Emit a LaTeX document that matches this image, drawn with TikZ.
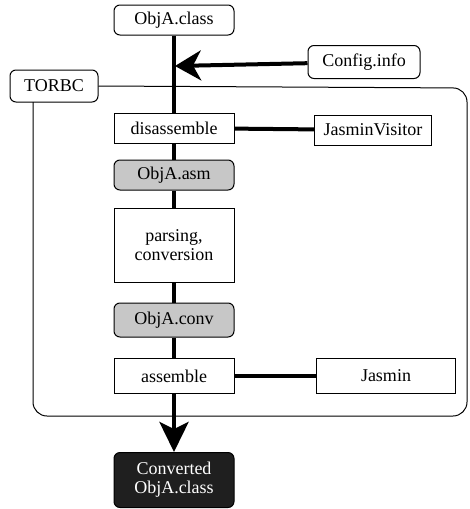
\documentclass[tikz,border=0pt]{standalone}
\usepackage{fontspec}
\setmainfont{Liberation Serif}[Extension=.ttf, UprightFont=LiberationSerif-Regular]
\usetikzlibrary{arrows.meta}
\begin{document}
\begin{tikzpicture}[x=1pt, y=-1pt, line width=1pt,
  every node/.style={font=\rmfamily\fontsize{18}{19}\selectfont, inner sep=0pt, align=center},
  procbox/.style={draw, minimum width=120pt, minimum height=30pt},
  filebox/.style={draw, rounded corners=6pt, minimum width=120pt, minimum height=30pt},
  midfile/.style={filebox, fill=black!22},
  flow/.style={line width=4.5pt},
  link/.style={line width=4pt}]
  \useasboundingbox (0,0) rectangle (470,509);
  \node[filebox] (clsin) at (174,20) {ObjA.class};
  \node[filebox, minimum width=112pt, minimum height=33pt] (config) at (364,62) {Config.info};
  \node[filebox, minimum width=88pt, minimum height=32pt] (torbc) at (54,86) {TORBC};
  \node[procbox] (disasm) at (174,128) {disassemble};
  \node[procbox, minimum width=117pt] (visitor) at (373,130) {JasminVisitor};
  \node[midfile] (asm) at (174,175) {ObjA.asm};
  \node[procbox, minimum height=74pt] (parse) at (174,245) {parsing,\\conversion};
  \node[midfile, minimum height=34pt] (conv) at (174,320) {ObjA.conv};
  \node[procbox, minimum height=35pt] (assem) at (174,376) {assemble};
  \node[procbox, minimum width=139pt, minimum height=35pt] (jasmin) at (386,376) {Jasmin};
  \node[filebox, minimum height=55pt, fill=black!88, text=white] (out) at (174,480) {Converted\\ObjA.class};
  \coordinate (join) at (175,66);
  % TORBC frame
  \draw[rounded corners=14pt] (torbc.east) -- (467,88) -- (467,416) -- (33,416) -- (33,102);
  % main flow
  \draw[flow] (clsin) -- (disasm);
  \draw[flow] (disasm) -- (asm);
  \draw[flow] (asm) -- (parse);
  \draw[flow] (parse) -- (conv);
  \draw[flow] (conv) -- (assem);
  \draw[flow, -{Stealth[length=30pt, width=29pt, inset=7pt]}] (assem) -- (out);
  \draw[link, -{Stealth[length=26pt, width=30pt, inset=8pt]}] (config) -- (join);
  \draw[link] (disasm) -- (visitor);
  \draw[link] (assem) -- (jasmin);
\end{tikzpicture}
\end{document}
